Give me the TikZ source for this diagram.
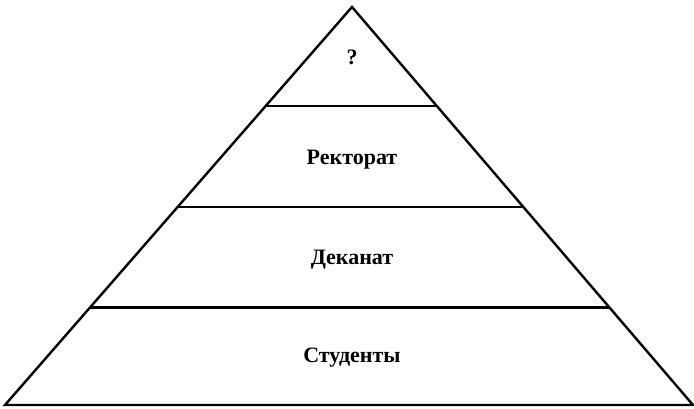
\documentclass[tikz,border=0pt]{standalone}
\usepackage{fontspec}
\setmainfont{Liberation Serif}
\usepackage{tikz}
\usetikzlibrary{calc}

\tikzset{
  piramide/.style={line width=2.4pt, line join=miter},
  livello/.style={line width=2.8pt},
  etichetta/.style={font=\fontsize{22}{26}\selectfont\bfseries, inner sep=0pt}
}

\begin{document}
\begin{tikzpicture}[x=1pt,y=1pt]
\useasboundingbox (0,0) rectangle (694,408);
%--- contorno ---
\coordinate (vertice) at (352,401);
\coordinate (bl) at (5,3);
\coordinate (br) at (693,3);
\draw[piramide] (bl) -- (vertice) -- (br) -- cycle;
% livelli
\foreach \t in {0.245,0.4975,0.7513}{
  \draw[livello] ($(bl)!\t!(vertice)$) -- ($(br)!\t!(vertice)$);
}
%--- etichette ---
\node[etichetta] (cima) at (352,351) {?};
\node[etichetta] (rettorato) at (352,248) {Ректорат};
\node[etichetta] (decanato) at (352,148) {Деканат};
\node[etichetta] (studenti) at (352,50) {Студенты};
\end{tikzpicture}
\end{document}
